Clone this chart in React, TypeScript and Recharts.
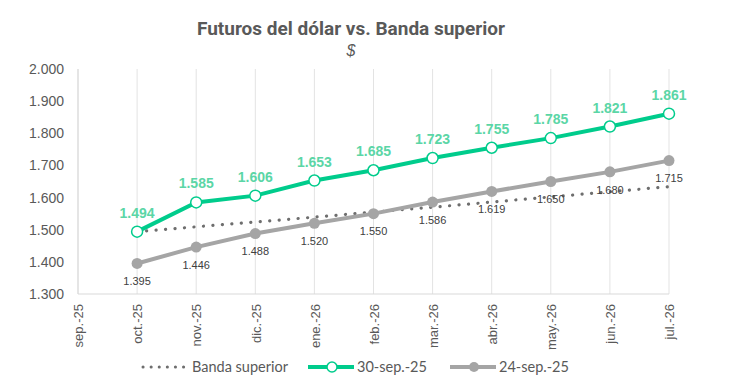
import { CartesianGrid, LabelList, Line, LineChart, XAxis, YAxis } from 'recharts';

const months = ['sep.-25', 'oct.-25', 'nov.-25', 'dic.-25', 'ene.-26', 'feb.-26', 'mar.-26', 'abr.-26', 'may.-26', 'jun.-26', 'jul.-26'];
const bandaSuperior = [null, 1.494, 1.509, 1.524, 1.539, 1.555, 1.570, 1.586, 1.602, 1.618, 1.634];
const fut30Sep = [null, 1.494, 1.585, 1.606, 1.653, 1.685, 1.723, 1.755, 1.785, 1.821, 1.861];
const fut24Sep = [null, 1.395, 1.446, 1.488, 1.520, 1.550, 1.586, 1.619, 1.650, 1.680, 1.715];
const yTicks = [1.3, 1.4, 1.5, 1.6, 1.7, 1.8, 1.9, 2.0];

const GREEN = '#00CC8C';
const GREEN_LABEL = '#5BD6A6';
const GRAY = '#A5A5A5';
const DOT = '#6E6E6E';
const TEXT = '#595959';

const data = months.map((m, i) => ({
  mes: m,
  banda: bandaSuperior[i],
  s30: fut30Sep[i],
  s24: fut24Sep[i],
}));

const fmt = (v: any) => (v == null ? '' : Number(v).toFixed(3));

export default function App() {
  return (
    <div style={{ position: 'fixed', left: 0, top: 0, width: 730, height: 384, background: '#fff', fontFamily: 'Liberation Sans, Arial, sans-serif' }}>
      <div style={{ position: 'absolute', left: 0, width: 702, top: 17, textAlign: 'center', fontFamily: '"Liberation Sans Narrow", Roboto, sans-serif', fontWeight: 700, fontSize: 19, color: TEXT }}>
        Futuros del dólar vs. Banda superior
      </div>
      <div style={{ position: 'absolute', left: 0, width: 702, top: 42, textAlign: 'center', fontStyle: 'italic', fontSize: 16, color: TEXT }}>
        $
      </div>
      <LineChart width={730} height={384} data={data} margin={{ top: 69, right: 61, bottom: 0, left: 0 }}>
        <CartesianGrid horizontal={false} stroke="#E3E3E3" />
        <XAxis
          dataKey="mes"
          interval={0}
          angle={-90}
          textAnchor="end"
          height={90}
          tick={{ fontSize: 13, fill: TEXT, dx: -4, dy: 2 }}
          tickLine={false}
          axisLine={{ stroke: '#D9D9D9' }}
        />
        <YAxis
          domain={[1.3, 2.0]}
          ticks={yTicks}
          tickFormatter={fmt}
          width={78}
          tick={{ fontSize: 14, fill: TEXT, dx: -6 }}
          tickLine={false}
          axisLine={{ stroke: '#D9D9D9' }}
          interval={0}
        />
        <Line
          dataKey="banda"
          stroke={DOT}
          strokeWidth={3.2}
          strokeLinecap="round"
          strokeDasharray="0.1 9.4"
          dot={false}
          activeDot={false}
          isAnimationActive={false}
        />
        <Line
          dataKey="s24"
          stroke={GRAY}
          strokeWidth={4}
          dot={{ r: 5.5, fill: GRAY, stroke: GRAY, strokeWidth: 0 }}
          isAnimationActive={false}
        >
          <LabelList dataKey="s24" position="bottom" offset={14} formatter={fmt} style={{ fontSize: 11, fill: '#404040' }} />
        </Line>
        <Line
          dataKey="s30"
          stroke={GREEN}
          strokeWidth={4}
          dot={{ r: 5.5, fill: '#fff', stroke: GREEN, strokeWidth: 1.5 }}
          isAnimationActive={false}
        >
          <LabelList dataKey="s30" position="top" offset={14} formatter={fmt} style={{ fontSize: 14, fontWeight: 700, fill: GREEN_LABEL }} />
        </Line>
      </LineChart>
      <div style={{ position: 'absolute', top: 357, left: 0, width: 730, height: 20, fontSize: 14.5, color: TEXT, fontFamily: 'Lato, sans-serif' }}>
        <svg style={{ position: 'absolute', left: 140, top: 3 }} width={46} height={14}>
          <line x1={3} y1={7} x2={44} y2={7} stroke={DOT} strokeWidth={3} strokeLinecap="round" strokeDasharray="0.1 8" />
        </svg>
        <span style={{ position: 'absolute', left: 192, top: 0, lineHeight: '20px' }}>Banda superior</span>
        <svg style={{ position: 'absolute', left: 308, top: 3 }} width={46} height={14}>
          <line x1={0} y1={7} x2={46} y2={7} stroke={GREEN} strokeWidth={4} />
          <circle cx={24} cy={7} r={5} fill="#fff" stroke={GREEN} strokeWidth={1.5} />
        </svg>
        <span style={{ position: 'absolute', left: 357, top: 0, lineHeight: '20px' }}>30-sep.-25</span>
        <svg style={{ position: 'absolute', left: 450, top: 3 }} width={46} height={14}>
          <line x1={0} y1={7} x2={46} y2={7} stroke={GRAY} strokeWidth={4} />
          <circle cx={24} cy={7} r={5} fill={GRAY} />
        </svg>
        <span style={{ position: 'absolute', left: 499, top: 0, lineHeight: '20px' }}>24-sep.-25</span>
      </div>
    </div>
  );
}
